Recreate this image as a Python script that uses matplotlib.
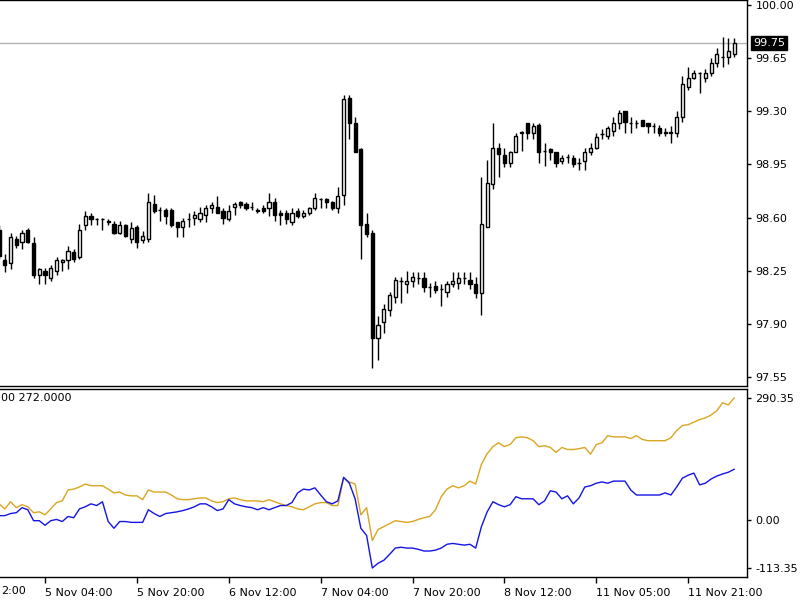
import matplotlib
matplotlib.use("Agg")
import matplotlib.pyplot as plt
import matplotlib.transforms as mtransforms
import numpy as np

# hourly candles, oldest first
highs = [98.55, 98.36, 98.50, 98.48, 98.52, 98.53, 98.47, 98.27, 98.27, 98.29,
         98.34, 98.33, 98.41, 98.39, 98.56, 98.64, 98.63, 98.60, 98.60, 98.59,
         98.58, 98.58, 98.56, 98.57, 98.55, 98.51, 98.76, 98.75, 98.67, 98.66,
         98.66, 98.57, 98.60, 98.63, 98.64, 98.67, 98.68, 98.70, 98.74, 98.66,
         98.68, 98.70, 98.71, 98.70, 98.70, 98.66, 98.68, 98.76, 98.73, 98.65,
         98.65, 98.66, 98.66, 98.65, 98.67, 98.76, 98.73, 98.73, 98.71, 98.80,
         99.41, 99.41, 99.26, 99.06, 98.63, 98.52, 97.95, 98.03, 98.11, 98.21,
         98.21, 98.25, 98.24, 98.24, 98.24, 98.17, 98.18, 98.16, 98.18, 98.24,
         98.24, 98.24, 98.24, 98.21, 98.87, 98.98, 99.22, 99.09, 99.06, 99.04,
         99.16, 99.17, 99.22, 99.22, 99.22, 99.09, 99.06, 99.03, 99.01, 99.02,
         99.01, 98.99, 99.06, 99.09, 99.16, 99.18, 99.20, 99.26, 99.31, 99.30,
         99.26, 99.24, 99.24, 99.22, 99.22, 99.21, 99.19, 99.20, 99.30, 99.53,
         99.59, 99.57, 99.56, 99.58, 99.65, 99.72, 99.79, 99.78, 99.78]
opens = [98.52, 98.32, 98.30, 98.46, 98.44, 98.52, 98.43, 98.22, 98.25, 98.20,
         98.25, 98.31, 98.32, 98.37, 98.34, 98.55, 98.61, 98.59, 98.59, 98.58,
         98.56, 98.50, 98.55, 98.46, 98.54, 98.45, 98.46, 98.69, 98.65, 98.65,
         98.65, 98.57, 98.54, 98.59, 98.60, 98.59, 98.62, 98.66, 98.67, 98.64,
         98.59, 98.67, 98.70, 98.69, 98.67, 98.65, 98.66, 98.66, 98.70, 98.63,
         98.63, 98.57, 98.64, 98.61, 98.63, 98.66, 98.72, 98.72, 98.70, 98.66,
         98.75, 99.39, 99.22, 99.05, 98.56, 98.50, 97.81, 97.91, 97.99, 98.08,
         98.18, 98.16, 98.18, 98.20, 98.20, 98.14, 98.15, 98.13, 98.11, 98.16,
         98.17, 98.20, 98.19, 98.16, 98.10, 98.54, 98.82, 99.06, 99.01, 98.96,
         99.03, 99.16, 99.22, 99.16, 99.21, 99.04, 99.05, 99.03, 98.97, 99.00,
         98.99, 98.96, 98.97, 99.03, 99.06, 99.15, 99.14, 99.17, 99.22, 99.30,
         99.22, 99.22, 99.24, 99.22, 99.20, 99.19, 99.16, 99.16, 99.16, 99.26,
         99.46, 99.52, 99.55, 99.52, 99.55, 99.62, 99.66, 99.66, 99.68]
closes = [98.35, 98.29, 98.47, 98.42, 98.50, 98.44, 98.22, 98.26, 98.22, 98.27,
          98.32, 98.32, 98.38, 98.33, 98.52, 98.61, 98.59, 98.59, 98.59, 98.57,
          98.50, 98.55, 98.48, 98.53, 98.44, 98.48, 98.70, 98.64, 98.65, 98.61,
          98.55, 98.54, 98.58, 98.59, 98.62, 98.63, 98.66, 98.68, 98.63, 98.60,
          98.64, 98.69, 98.68, 98.66, 98.67, 98.64, 98.64, 98.70, 98.62, 98.62,
          98.59, 98.63, 98.61, 98.63, 98.66, 98.73, 98.72, 98.70, 98.66, 98.74,
          99.38, 99.22, 99.03, 98.55, 98.49, 97.81, 97.89, 98.00, 98.09, 98.19,
          98.18, 98.18, 98.21, 98.20, 98.14, 98.14, 98.12, 98.13, 98.16, 98.18,
          98.20, 98.20, 98.16, 98.10, 98.56, 98.83, 99.06, 99.02, 98.96, 99.03,
          99.14, 99.16, 99.16, 99.20, 99.03, 99.04, 99.03, 98.96, 98.99, 99.00,
          98.95, 98.96, 99.03, 99.06, 99.13, 99.15, 99.19, 99.22, 99.29, 99.23,
          99.22, 99.22, 99.20, 99.20, 99.20, 99.16, 99.16, 99.16, 99.26, 99.48,
          99.52, 99.55, 99.55, 99.55, 99.62, 99.68, 99.66, 99.70, 99.75]
lows = [98.33, 98.24, 98.26, 98.40, 98.39, 98.43, 98.20, 98.16, 98.16, 98.18,
        98.22, 98.25, 98.26, 98.31, 98.33, 98.52, 98.55, 98.55, 98.52, 98.55,
        98.49, 98.49, 98.47, 98.43, 98.40, 98.43, 98.44, 98.63, 98.58, 98.56,
        98.54, 98.47, 98.47, 98.54, 98.55, 98.57, 98.57, 98.63, 98.63, 98.56,
        98.58, 98.62, 98.66, 98.65, 98.65, 98.63, 98.63, 98.61, 98.58, 98.55,
        98.56, 98.55, 98.60, 98.60, 98.62, 98.65, 98.66, 98.66, 98.65, 98.63,
        98.68, 99.12, 99.03, 98.33, 98.47, 97.61, 97.66, 97.84, 97.95, 98.04,
        98.04, 98.10, 98.14, 98.16, 98.11, 98.08, 98.10, 98.02, 98.08, 98.14,
        98.13, 98.16, 98.13, 98.07, 97.96, 98.54, 98.79, 98.87, 98.93, 98.93,
        99.03, 99.04, 99.12, 99.12, 98.96, 98.94, 98.98, 98.93, 98.95, 98.96,
        98.93, 98.91, 98.91, 99.01, 99.05, 99.12, 99.12, 99.14, 99.18, 99.16,
        99.16, 99.19, 99.20, 99.16, 99.16, 99.14, 99.14, 99.09, 99.13, 99.23,
        99.44, 99.51, 99.42, 99.49, 99.53, 99.59, 99.59, 99.61, 99.66]

# indicator window
orange_vals = [39, 27, 44, 30, 37, 32, 18, 20, 13, 27,
               42, 46, 72, 74, 79, 86, 82, 82, 82, 74,
               65, 67, 60, 58, 58, 49, 72, 67, 67, 67,
               60, 51, 49, 49, 51, 53, 53, 46, 42, 44,
               51, 53, 49, 46, 46, 46, 44, 49, 44, 39,
               35, 32, 27, 25, 32, 39, 42, 42, 35, 35,
               100, 91, 86, 13, 30, -48, -22, -15, -8, -1,
               -3, -5, -3, 2, 6, 9, 25, 56, 74, 82,
               77, 82, 93, 86, 133, 158, 175, 184, 175, 180,
               196, 198, 196, 189, 175, 177, 173, 161, 173, 168,
               168, 170, 173, 157, 180, 184, 201, 198, 198, 198,
               194, 201, 192, 189, 189, 189, 189, 196, 213, 225,
               227, 233, 239, 243, 250, 260, 279, 274, 290.35]
blue_vals = [11, 11, 16, 18, 30, 25, -1, -1, -12, -1,
             2, -3, 9, 6, 27, 32, 39, 35, 44, -3,
             -19, -3, -3, -5, -5, -5, 25, 16, 9, 16,
             18, 20, 23, 27, 32, 39, 39, 32, 23, 27,
             49, 39, 35, 32, 30, 25, 30, 25, 30, 35,
             35, 42, 65, 74, 72, 77, 60, 44, 39, 46,
             102, 88, 51, -19, -36, -113.35, -102, -95, -81, -66,
             -64, -66, -66, -69, -73, -73, -71, -66, -57, -55,
             -57, -59, -57, -66, -15, 20, 44, 37, 32, 37,
             56, 51, 51, 51, 37, 46, 70, 67, 51, 58,
             39, 53, 79, 82, 88, 91, 88, 93, 93, 93,
             72, 60, 60, 60, 60, 60, 65, 60, 79, 100,
             107, 112, 84, 88, 98, 105, 110, 114, 121]

price_ticks = [100.00, 99.65, 99.30, 98.95, 98.60, 98.25, 97.90, 97.55]
last_price = 99.75
ind_ticks = [290.35, 0.00, -113.35]
time_tick_bars = [8, 24, 40, 56, 72, 88, 104, 120]
time_labels = ["5 Nov 04:00", "5 Nov 20:00", "6 Nov 12:00", "7 Nov 04:00",
               "7 Nov 20:00", "8 Nov 12:00", "11 Nov 05:00", "11 Nov 21:00"]
first_label_tail = "2:00"
ind_caption = "00 272.0000"

W, H = 800, 600
fig = plt.figure(figsize=(8, 6), dpi=100)
ax = fig.add_axes([0, 1 - 386 / H, 747 / W, 386 / H])
ax2 = fig.add_axes([0, 1 - 577 / H, 747 / W, (577 - 389) / H], sharex=ax)

x = np.arange(len(closes))
o = np.array(opens); c = np.array(closes)
hi = np.array(highs); lo = np.array(lows)

ax.vlines(x, lo, hi, color="black", lw=1, zorder=2)
up = c >= o
bottom = np.minimum(o, c)
height = np.maximum(np.abs(c - o), 0.0005)
ax.bar(x[up], height[up], bottom=bottom[up], width=0.55,
       facecolor="white", edgecolor="black", lw=1, zorder=3)
ax.bar(x[~up], height[~up], bottom=bottom[~up], width=0.55,
       facecolor="black", edgecolor="black", lw=1, zorder=3)

ax.axhline(last_price, color="#b4b4b4", lw=1, zorder=1)

ax.set_xlim(0.157, 130.25)
ax.set_ylim(100 - 381 * 0.35 / 53.14, 100 + 5 * 0.35 / 53.14)

for a in (ax, ax2):
    a.yaxis.tick_right()
    a.spines["left"].set_visible(False)
    for s in ("right", "top", "bottom"):
        a.spines[s].set_color("black")
        a.spines[s].set_linewidth(1)
    a.tick_params(axis="y", direction="out", length=3, width=1, pad=3,
                  labelsize=8, colors="black")

ax.set_yticks(price_ticks)
ax.set_yticklabels([f"{p:.2f}" for p in price_ticks])
ax.tick_params(axis="x", bottom=False, labelbottom=False)

trans = mtransforms.blended_transform_factory(ax.transAxes, ax.transData)
ax.text(1.008, last_price, f"{last_price:.2f}", transform=trans, fontsize=8,
        color="white", va="center", ha="left",
        bbox=dict(boxstyle="square,pad=0.2", fc="black", ec="black"))

ax2.plot(x, orange_vals, color="#DAA520", lw=1)
ax2.plot(x, blue_vals, color="#1414E6", lw=1)
ax2.set_ylim(-134.7, 311.7)
ax2.set_yticks(ind_ticks)
ax2.set_yticklabels([f"{v:.2f}" for v in ind_ticks])
ax2.set_xticks(time_tick_bars)
ax2.set_xticklabels(time_labels)
ax2.tick_params(axis="x", direction="out", length=4, width=1, pad=4,
                labelsize=8, colors="black")
for lab in ax2.get_xticklabels():
    lab.set_horizontalalignment("left")
ax2.text(1 / W, 1 - 398 / H, ind_caption, transform=fig.transFigure,
         fontsize=8, va="center", ha="left", color="black")

fig.text(1 / W, 1 - 591 / H, first_label_tail, fontsize=8, ha="left",
         va="center", color="black")

fig.savefig("out.png", dpi=100)
